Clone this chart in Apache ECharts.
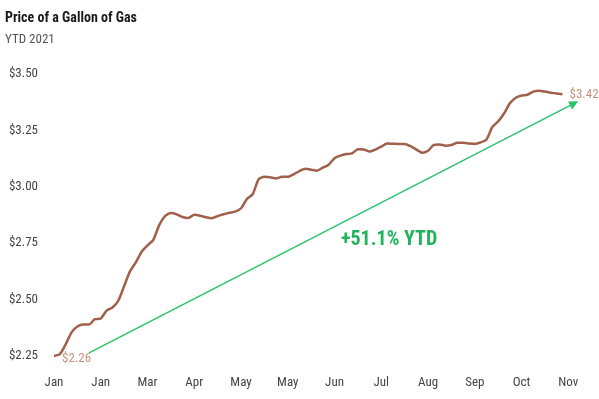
<!DOCTYPE html>
<html>
<head>
<meta charset="utf-8">
<script src="https://cdn.jsdelivr.net/npm/echarts@6/dist/echarts.min.js"></script>
<style>
  html, body { margin: 0; padding: 0; background: #fff; }
  #main { width: 599px; height: 399px; }
</style>
</head>
<body>
<div id="main"></div>
<script>
// price per gallon (one point per step on the x axis)
var prices = [
  2.250, 2.258, 2.302, 2.355, 2.381, 2.390, 2.390, 2.413, 2.416, 2.451,
  2.465, 2.495, 2.560, 2.625, 2.665, 2.712, 2.740, 2.765, 2.830, 2.870,
  2.884, 2.878, 2.866, 2.862, 2.876, 2.872, 2.865, 2.861, 2.870, 2.878,
  2.885, 2.890, 2.905, 2.946, 2.967, 3.033, 3.045, 3.042, 3.037, 3.045,
  3.044, 3.055, 3.070, 3.080, 3.076, 3.071, 3.085, 3.098, 3.127, 3.138,
  3.145, 3.148, 3.166, 3.165, 3.156, 3.165, 3.178, 3.192, 3.191, 3.190,
  3.190, 3.180, 3.165, 3.151, 3.160, 3.186, 3.188, 3.182, 3.185, 3.195,
  3.195, 3.192, 3.190, 3.197, 3.210, 3.265, 3.290, 3.325, 3.370, 3.395,
  3.405, 3.408, 3.422, 3.426, 3.422, 3.417, 3.414, 3.410
];
var tickLabels = ['Jan', 'Jan', 'Mar', 'Apr', 'May', 'May', 'Jun', 'Jul', 'Aug', 'Sep', 'Oct', 'Nov'];
var labelStep = 8;
var steps = 91;
var endLabels = ['$2.26', '$3.42'];
var trendStart = [6, 2.264];
var trendEnd = [89, 3.37];
var trendText = '+51.1% YTD';

var font = "'Roboto Condensed', 'Open Sans Condensed', 'Liberation Sans', sans-serif";
var cats = [];
for (var i = 0; i < steps; i++) cats.push(String(i));

var seriesData = prices.map(function (v, i) {
  if (i === 0) {
    return { value: v, label: { show: true, position: 'right', formatter: endLabels[0], offset: [3, 3] } };
  }
  if (i === prices.length - 1) {
    return { value: v, label: { show: true, position: 'right', formatter: endLabels[1], offset: [2, 0] } };
  }
  return v;
});

var myChart = echarts.init(document.getElementById('main'));
var option = {
  backgroundColor: '#fff',
  animation: false,
  title: {
    text: 'Price of a Gallon of Gas',
    subtext: 'YTD 2021',
    left: 0,
    top: 6,
    itemGap: 8,
    textStyle: { fontFamily: font, fontSize: 14, fontWeight: 'bold', color: '#1a1a1a' },
    subtextStyle: { fontFamily: font, fontSize: 13, color: '#555' }
  },
  grid: { left: 54, right: 19, top: 74, bottom: 43 },
  xAxis: {
    type: 'category',
    boundaryGap: false,
    data: cats,
    axisLine: { show: false },
    axisTick: { show: false },
    splitLine: { show: false },
    axisLabel: {
      interval: labelStep - 1,
      margin: 20,
      color: '#444',
      fontFamily: font,
      fontSize: 13,
      formatter: function (v, idx) {
        return idx % labelStep === 0 ? (tickLabels[idx / labelStep] || '') : '';
      }
    }
  },
  yAxis: {
    type: 'value',
    min: 2.25,
    max: 3.5,
    interval: 0.25,
    axisLine: { show: false },
    axisTick: { show: false },
    splitLine: { show: false },
    axisLabel: {
      margin: 16,
      color: '#444',
      fontFamily: font,
      fontSize: 13,
      formatter: function (v) { return '$' + v.toFixed(2); }
    }
  },
  series: [{
    type: 'line',
    data: seriesData,
    showSymbol: true,
    symbol: 'circle',
    symbolSize: 0.1,
    smooth: 0.2,
    clip: false,
    lineStyle: { color: '#a0604a', width: 2.5 },
    itemStyle: { color: '#a0604a' },
    label: { show: false, color: '#c4917c', fontFamily: font, fontSize: 13 },
    markLine: {
      silent: true,
      symbol: ['none', 'triangle'],
      symbolSize: [9, 9],
      lineStyle: { color: '#2bc26b', width: 1.5, type: 'solid' },
      label: { show: false },
      data: [[{ coord: trendStart }, { coord: trendEnd }]]
    }
  }],
  graphic: [{
    type: 'text',
    left: 341,
    top: 230,
    style: {
      text: trendText,
      fill: '#1fb35a',
      font: 'bold 20px ' + font
    }
  }]
};
myChart.setOption(option);
</script>
</body>
</html>
